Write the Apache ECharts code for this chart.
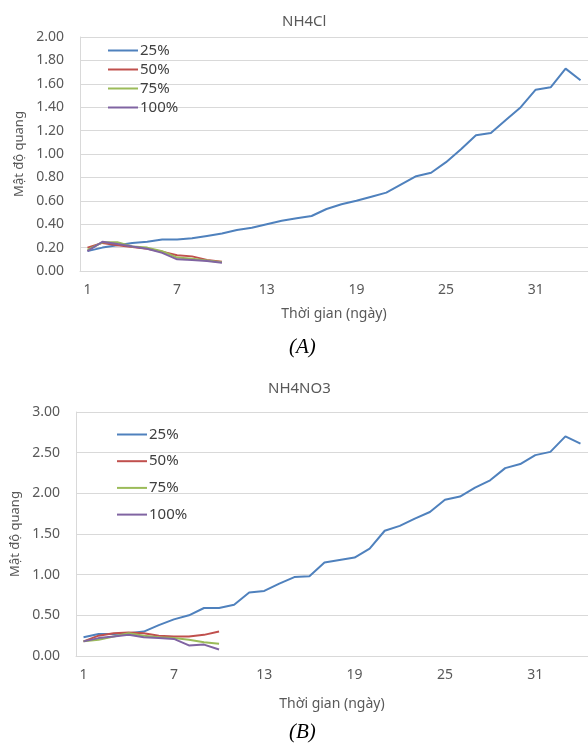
<!DOCTYPE html>
<html>
<head>
<meta charset="utf-8">
<script src="https://cdn.jsdelivr.net/npm/echarts@6/dist/echarts.min.js"></script>
<style>
  html, body { margin: 0; padding: 0; background: #fff; }
  #main { width: 588px; height: 746px; }
</style>
</head>
<body>
<div id="main"></div>
<script>
// ngày 1..34
var days = [];
for (var d = 1; d <= 34; d++) days.push(String(d));

var seriesNames = ['25%', '50%', '75%', '100%'];

// (A) NH4Cl
var clP25 = [0.17, 0.20, 0.22, 0.24, 0.25, 0.27, 0.27, 0.28, 0.30, 0.32,
  0.35, 0.37, 0.40, 0.43, 0.45, 0.47, 0.53, 0.57, 0.60, 0.635,
  0.67, 0.74, 0.81, 0.84, 0.93, 1.04, 1.16, 1.18, 1.29, 1.40,
  1.55, 1.57, 1.73, 1.63];
var clP50 = [0.20, 0.24, 0.22, 0.205, 0.19, 0.165, 0.135, 0.125, 0.095, 0.08];
var clP75 = [0.18, 0.245, 0.245, 0.21, 0.20, 0.17, 0.115, 0.105, 0.09, 0.075];
var clP100 = [0.17, 0.25, 0.23, 0.21, 0.19, 0.155, 0.10, 0.095, 0.085, 0.07];

// (B) NH4NO3
var no3P25 = [0.23, 0.27, 0.27, 0.28, 0.30, 0.38, 0.45, 0.50, 0.59, 0.59,
  0.63, 0.78, 0.80, 0.89, 0.97, 0.98, 1.15, 1.18, 1.21, 1.32,
  1.54, 1.60, 1.69, 1.77, 1.92, 1.96, 2.07, 2.16, 2.31, 2.36,
  2.47, 2.51, 2.70, 2.61];
var no3P50 = [0.18, 0.25, 0.28, 0.29, 0.28, 0.25, 0.24, 0.24, 0.26, 0.30];
var no3P75 = [0.18, 0.20, 0.24, 0.28, 0.25, 0.23, 0.22, 0.20, 0.17, 0.15];
var no3P100 = [0.18, 0.22, 0.24, 0.26, 0.23, 0.22, 0.21, 0.13, 0.14, 0.08];

var colors = ['#4F81BD', '#C0504D', '#9BBB59', '#8064A2'];
var font = 'Noto Sans';
var textColor = '#595959';

function xAxisFor(gridIndex, nameGap) {
  return {
    type: 'category',
    gridIndex: gridIndex,
    data: days,
    boundaryGap: true,
    name: 'Thời gian (ngày)',
    nameLocation: 'middle',
    nameGap: nameGap,
    nameTextStyle: { color: textColor, fontSize: 14, fontFamily: font },
    axisLine: { lineStyle: { color: '#d9d9d9', width: 1 } },
    axisTick: { show: false },
    axisLabel: { interval: 5, color: textColor, fontSize: 14, fontFamily: font, margin: 12 }
  };
}

function yAxisFor(gridIndex, max, interval, nameGap) {
  return {
    type: 'value',
    gridIndex: gridIndex,
    min: 0,
    max: max,
    interval: interval,
    name: 'Mật độ quang',
    nameLocation: 'middle',
    nameGap: nameGap,
    nameTextStyle: { color: textColor, fontSize: 13, fontFamily: font },
    axisLine: { show: true, lineStyle: { color: '#d9d9d9', width: 1 } },
    axisTick: { show: false },
    splitLine: { lineStyle: { color: '#d9d9d9', width: 1 } },
    axisLabel: {
      color: textColor, fontSize: 14, fontFamily: font, margin: 16,
      formatter: function (v) { return v.toFixed(2); }
    }
  };
}

function lineSeries(name, data, axisIndex, color) {
  return {
    type: 'line',
    name: name,
    data: data,
    xAxisIndex: axisIndex,
    yAxisIndex: axisIndex,
    symbol: 'none',
    lineStyle: { color: color, width: 2 },
    itemStyle: { color: color },
    animation: false
  };
}

var legendText = { color: '#404040', fontSize: 15, fontFamily: font, lineHeight: 14, padding: [0, 0, 0, -3] };

var option = {
  color: colors,
  title: [
    { text: 'NH4Cl', left: 277, top: 9,
      textStyle: { color: textColor, fontSize: 15, fontWeight: 'normal', fontFamily: font } },
    { text: 'NH4NO3', left: 263, top: 376,
      textStyle: { color: textColor, fontSize: 15, fontWeight: 'normal', fontFamily: font } }
  ],
  legend: [
    {
      data: seriesNames.slice(),
      orient: 'vertical', left: 102, top: 38,
      itemWidth: 30, itemHeight: 14, itemGap: 4,
      itemStyle: { opacity: 0 },
      textStyle: legendText
    },
    {
      data: seriesNames.map(function (n) { return n + ' '; }),
      orient: 'vertical', left: 111, top: 422,
      itemWidth: 30, itemHeight: 14, itemGap: 11.7,
      itemStyle: { opacity: 0 },
      textStyle: legendText,
      formatter: function (n) { return n.trim(); }
    }
  ],
  grid: [
    { left: 80, top: 37, width: 509, height: 234 },
    { left: 76, top: 412, width: 514, height: 244 }
  ],
  xAxis: [xAxisFor(0, 36), xAxisFor(1, 41)],
  yAxis: [yAxisFor(0, 2, 0.2, 52), yAxisFor(1, 3, 0.5, 54)],
  series: [
    lineSeries('25%', clP25, 0, colors[0]),
    lineSeries('50%', clP50, 0, colors[1]),
    lineSeries('75%', clP75, 0, colors[2]),
    lineSeries('100%', clP100, 0, colors[3]),
    lineSeries('25% ', no3P25, 1, colors[0]),
    lineSeries('50% ', no3P50, 1, colors[1]),
    lineSeries('75% ', no3P75, 1, colors[2]),
    lineSeries('100% ', no3P100, 1, colors[3])
  ],
  graphic: [
    { type: 'text', left: 289, top: 337,
      style: { text: '(A)', font: 'italic 21px "Liberation Serif"', fill: '#000' } },
    { type: 'text', left: 289, top: 722,
      style: { text: '(B)', font: 'italic 21px "Liberation Serif"', fill: '#000' } }
  ]
};

var chart = echarts.init(document.getElementById('main'));
chart.setOption(option);
</script>
</body>
</html>
